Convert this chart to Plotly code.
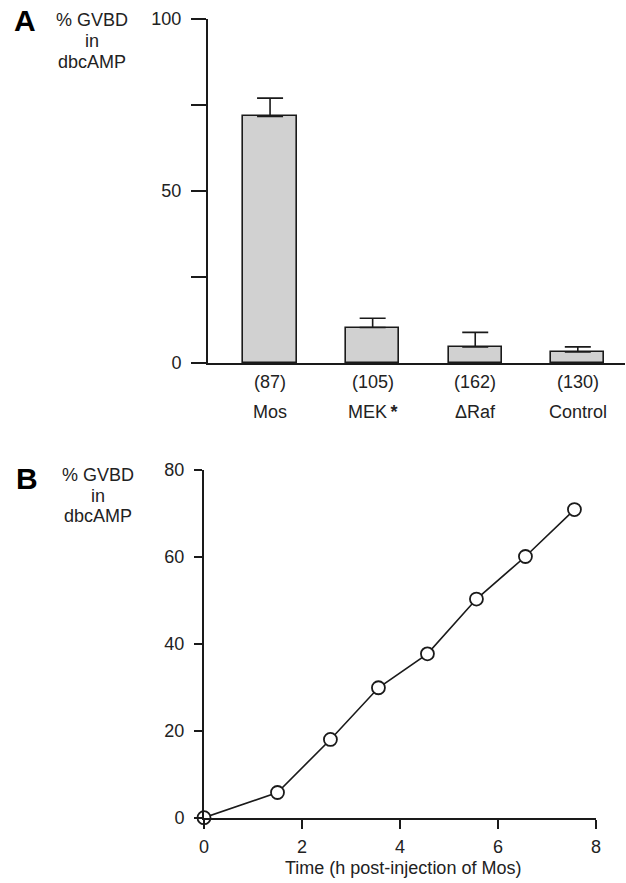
import plotly.graph_objects as go

# Panel A data
categories = ["Mos", "MEK\u2009<b>*</b>", "ΔRaf", "Control"]
counts = ["(87)", "(105)", "(162)", "(130)"]
gvbd_pct = [71.7, 10.3, 4.7, 3.2]
gvbd_err = [5.3, 2.7, 4.2, 1.5]
a_yticks = [0, 50, 100]
a_minor_ticks = [25, 75]

# Panel B data
time_h = [0, 1.5, 2.58, 3.56, 4.56, 5.56, 6.56, 7.56]
gvbd_time = [0, 5.8, 18.0, 29.9, 37.7, 50.3, 60.1, 70.9]
b_yticks = [0, 20, 40, 60, 80]
b_xticks = [0, 2, 4, 6, 8]

ytitle_lines = ["% GVBD", "in", "dbcAMP"]
xtitle_b = "Time (h post-injection of Mos)"

W, H = 626, 883
FONT = "Liberation Sans, Arial, Helvetica, sans-serif"
INK = "#1a1a1a"
TXT = "#222"
FS = 18

def px(x):
    return x / W

def py(y):
    return 1 - y / H

xpos = list(range(len(categories)))

fig = go.Figure()
fig.add_trace(go.Bar(
    x=xpos, y=gvbd_pct, width=0.52,
    marker=dict(color="#d1d1d1", line=dict(color=INK, width=1.6)),
    error_y=dict(type="data", array=gvbd_err, arrayminus=[0] * 4, symmetric=False,
                 color=INK, thickness=1.6, width=13),
    xaxis="x", yaxis="y", showlegend=False,
))
fig.add_trace(go.Scatter(
    x=time_h, y=gvbd_time, mode="lines+markers",
    line=dict(color=INK, width=1.6),
    marker=dict(symbol="circle", size=13, color="white", line=dict(color=INK, width=1.8)),
    cliponaxis=False, xaxis="x2", yaxis="y2", showlegend=False,
))

tickfont = dict(family=FONT, size=FS, color=TXT)
common = dict(showgrid=False, zeroline=False, showline=True, linecolor=INK, linewidth=2,
              automargin=False, fixedrange=True)

fig.update_layout(
    width=W, height=H,
    margin=dict(l=0, r=0, t=0, b=0, pad=0, autoexpand=False),
    paper_bgcolor="white", plot_bgcolor="white",
    bargap=0,
    xaxis=dict(domain=[px(208), px(625)], range=[-0.605, 3.46],
               showticklabels=False, ticks="", anchor="y", **common),
    yaxis=dict(domain=[py(363), py(19)], range=[0, 100],
               tickvals=a_yticks, ticks="outside", ticklen=15,
               tickwidth=1.6, tickcolor=INK, tickfont=tickfont, ticklabelstandoff=6,
               minor=dict(tickvals=a_minor_ticks, ticks="outside", ticklen=15,
                          tickwidth=1.6, tickcolor=INK, showgrid=False),
               anchor="x", **common),
    xaxis2=dict(domain=[px(204), px(596)], range=[0, 8],
                tickvals=b_xticks, ticks="outside", ticklen=9, tickwidth=1.6, tickcolor=INK,
                tickfont=tickfont, ticklabelstandoff=3, anchor="y2", **common),
    yaxis2=dict(domain=[py(817.7), py(470)], range=[0, 80],
                tickvals=b_yticks, ticks="outside", ticklen=8, tickwidth=1.6, tickcolor=INK,
                tickfont=tickfont, ticklabelstandoff=6, anchor="x2", **common),
)

annots = []
for i, (c, n) in enumerate(zip(categories, counts)):
    annots.append(dict(x=i, y=py(382), xref="x", yref="paper", text=n, showarrow=False,
                       font=dict(family=FONT, size=FS, color=TXT), yanchor="middle"))
    annots.append(dict(x=i, y=py(412), xref="x", yref="paper", text=c, showarrow=False,
                       font=dict(family=FONT, size=FS, color=TXT), yanchor="middle"))

for cx, ys in [(92, [20, 41, 62]), (98, [475, 495.5, 516])]:
    for line, yy in zip(ytitle_lines, ys):
        annots.append(dict(x=px(cx), y=py(yy), xref="paper", yref="paper", text=line,
                           showarrow=False, xanchor="center", yanchor="middle",
                           font=dict(family=FONT, size=FS, color=TXT)))

annots += [
    dict(x=px(12), y=py(21), xref="paper", yref="paper", text="<b>A</b>", showarrow=False,
         xanchor="left", yanchor="middle", font=dict(family=FONT, size=30, color="#000")),
    dict(x=px(14), y=py(478), xref="paper", yref="paper", text="<b>B</b>", showarrow=False,
         xanchor="left", yanchor="middle", font=dict(family=FONT, size=30, color="#000")),
    dict(x=px(403), y=py(868), xref="paper", yref="paper", text=xtitle_b,
         showarrow=False, xanchor="center", yanchor="middle",
         font=dict(family=FONT, size=FS, color=TXT)),
]
fig.update_layout(annotations=annots)

fig.write_html("out.html", config={"displayModeBar": False},
               post_script="document.body.style.margin='0px';document.body.style.overflow='hidden';")
